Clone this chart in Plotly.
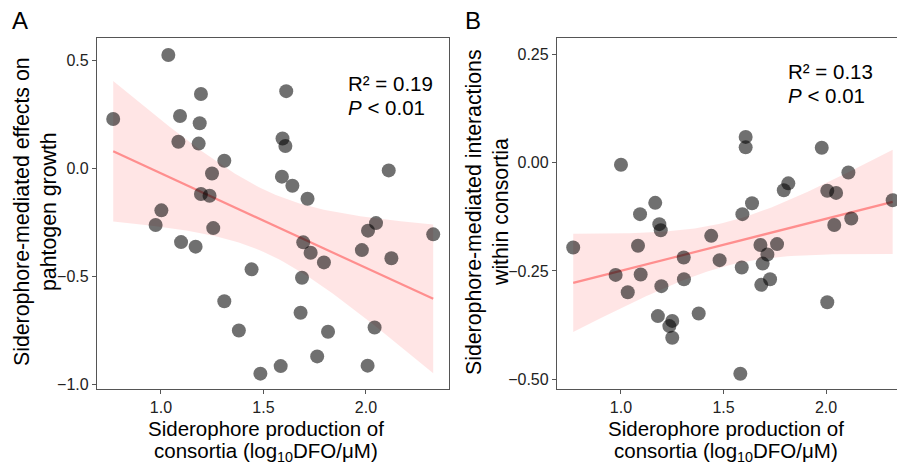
import numpy as np
import plotly.graph_objects as go

# ---- data ----
xa = [0.767, 1.036, 1.195, 1.611, 1.093, 1.189, 1.085, 1.184, 1.593, 1.607, 1.309,
      2.111, 1.249, 1.590, 1.641, 1.715, 1.195, 1.237, 1.002, 0.974, 1.255, 2.049,
      2.010, 2.328, 1.098, 1.169, 1.694, 1.730, 1.980, 1.795, 2.124, 1.442, 1.688,
      1.309, 1.681, 1.380, 1.815, 2.042, 1.762, 1.584, 2.008, 1.485]
ya = [0.227, 0.523, 0.343, 0.356, 0.241, 0.207, 0.122, 0.113, 0.137, 0.102, 0.034,
      -0.011, -0.025, -0.040, -0.082, -0.142, -0.120, -0.128, -0.196, -0.264, -0.278, -0.255,
      -0.290, -0.307, -0.343, -0.364, -0.344, -0.392, -0.380, -0.437, -0.418, -0.469, -0.508,
      -0.617, -0.670, -0.752, -0.758, -0.738, -0.872, -0.917, -0.915, -0.952]

xb = [0.767, 1.000, 1.608, 1.608, 1.979, 2.109, 1.816, 1.794, 2.006, 2.049, 1.639,
      1.167, 1.093, 1.592, 1.187, 1.194, 2.040, 2.123, 2.325, 1.440, 1.083, 1.680,
      1.761, 1.714, 1.306, 1.481, 1.691, 1.589, 0.974, 1.096, 1.307, 1.727, 1.684,
      1.197, 1.033, 2.006, 1.180, 1.379, 1.250, 1.236, 1.250, 1.582]
yb = [-0.196, -0.005, 0.059, 0.035, 0.034, -0.023, -0.048, -0.064, -0.065, -0.070, -0.094,
      -0.093, -0.119, -0.119, -0.142, -0.156, -0.144, -0.129, -0.087, -0.169, -0.192, -0.190,
      -0.188, -0.212, -0.219, -0.225, -0.233, -0.242, -0.259, -0.258, -0.269, -0.269, -0.282,
      -0.285, -0.299, -0.322, -0.354, -0.348, -0.365, -0.377, -0.404, -0.487]

stats_a = ["R\u00b2 = 0.19", "<i>P</i> < 0.01"]
stats_b = ["R\u00b2 = 0.13", "<i>P</i> < 0.01"]
ticks_a = [-1.0, -0.5, 0.0, 0.5]
ticks_b = [-0.50, -0.25, 0.00, 0.25]
ticks_x = [1.0, 1.5, 2.0]

W, H = 897, 464
FONT = "Liberation Sans, Arial, sans-serif"
AX = "#555555"
T99 = 2.704  # t quantile, 99% band, df = 40


def lm_band(x, y, t=T99):
    x = np.asarray(x); y = np.asarray(y)
    n = len(x)
    b1, b0 = np.polyfit(x, y, 1)
    res = y - (b0 + b1 * x)
    s = np.sqrt(np.sum(res ** 2) / (n - 2))
    xs = np.linspace(x.min(), x.max(), 80)
    fit = b0 + b1 * xs
    se = s * np.sqrt(1 / n + (xs - x.mean()) ** 2 / np.sum((x - x.mean()) ** 2))
    return xs, fit, fit - t * se, fit + t * se


fig = go.Figure()


def add_panel(x, y, xa_name, ya_name):
    xs, fit, lo, hi = lm_band(x, y)
    fig.add_trace(go.Scatter(x=np.concatenate([xs, xs[::-1]]), y=np.concatenate([hi, lo[::-1]]),
                             fill="toself", fillcolor="rgba(255,0,0,0.1)", line=dict(width=0),
                             mode="lines", hoverinfo="skip", showlegend=False,
                             xaxis=xa_name, yaxis=ya_name))
    fig.add_trace(go.Scatter(x=xs, y=fit, mode="lines", line=dict(color="#FF8E8E", width=2.2),
                             showlegend=False, xaxis=xa_name, yaxis=ya_name))
    fig.add_trace(go.Scatter(x=x, y=y, mode="markers",
                             marker=dict(size=14, color="rgba(0,0,0,0.56)", line=dict(width=0)),
                             showlegend=False, xaxis=xa_name, yaxis=ya_name))


add_panel(xa, ya, "x", "y")
add_panel(xb, yb, "x2", "y2")

axis_common = dict(showgrid=False, zeroline=False, showline=True, linecolor=AX, linewidth=1.3,
                   ticks="outside", ticklen=4, tickcolor=AX, tickwidth=1.1, automargin=False,
                   tickfont=dict(family=FONT, size=16, color="#222222"))

ydom = [75 / H, 426 / H]
fig.update_layout(
    width=W, height=H, margin=dict(l=0, r=0, t=0, b=0, autoexpand=False),
    paper_bgcolor="white", plot_bgcolor="white",
    xaxis=dict(domain=[97 / W, 449 / W], range=[0.688, 2.405], tickvals=ticks_x,
               tickformat=".1f", mirror=True, anchor="y", **axis_common),
    yaxis=dict(domain=ydom, range=[-1.023, 0.602], tickvals=ticks_a, tickformat=".1f",
               mirror=True, anchor="x", **axis_common),
    xaxis2=dict(domain=[557 / W, 1.0], range=[0.688, 2.346], tickvals=ticks_x,
                tickformat=".1f", mirror=True, anchor="y2", **axis_common),
    yaxis2=dict(domain=ydom, range=[-0.522, 0.287], tickvals=ticks_b, tickformat=".2f",
                anchor="x2", **axis_common),
)


def ann(text, px, py, size=20.5, angle=0, xanchor="center", yanchor="middle"):
    fig.add_annotation(text=text, x=px / W, y=1 - py / H, xref="paper", yref="paper",
                       showarrow=False, textangle=angle, xanchor=xanchor, yanchor=yanchor,
                       font=dict(family=FONT, size=size, color="black"))


# panel letters
ann("A", 20, 20, size=24)
ann("B", 473, 20, size=24)
# x titles
for cx in (266, 726):
    ann("Siderophore production of", cx, 428)
    ann("consortia (log<sub>10</sub>DFO/\u03bcM)", cx, 452)
# y titles
ann("Siderophore-mediated effects on", 22, 212, size=21.3, angle=-90)
ann("pahtogen growth", 49, 212, size=21.3, angle=-90)
ann("Siderophore-mediated interactions", 474, 212, size=21.3, angle=-90)
ann("within consortia", 501, 212, size=21.3, angle=-90)
# stats
ann(stats_a[0], 346, 84, xanchor="left")
ann(stats_a[1], 346, 108, xanchor="left")
ann(stats_b[0], 786, 72, xanchor="left")
ann(stats_b[1], 786, 96, xanchor="left")

fig.write_html("out.html", config={"displayModeBar": False},
               post_script="document.body.style.margin='0';document.body.style.overflow='hidden';")
